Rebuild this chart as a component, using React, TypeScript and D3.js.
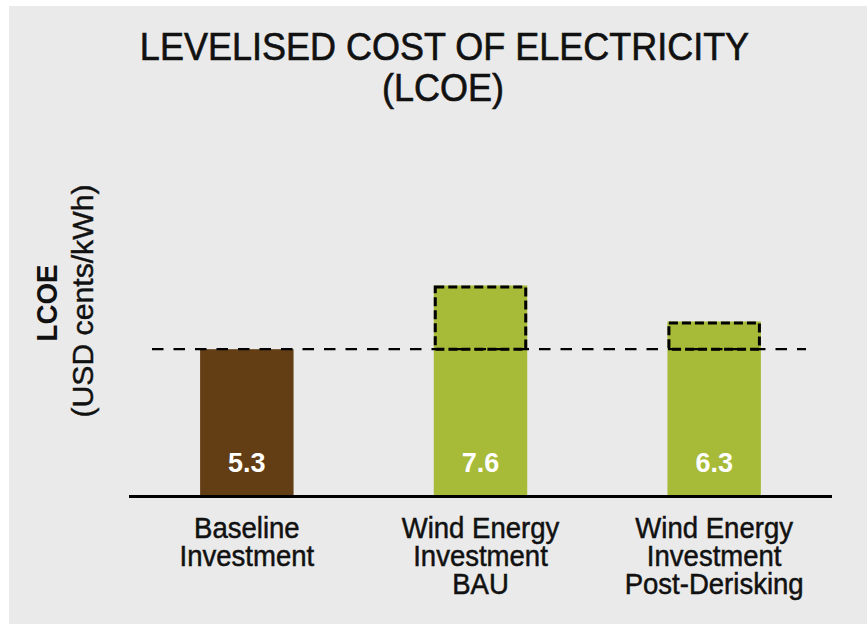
import React from "react";
import * as d3 from "d3";

const categories: string[][] = [
  ["Baseline", "Investment"],
  ["Wind Energy", "Investment", "BAU"],
  ["Wind Energy", "Investment", "Post-Derisking"],
];
const values: number[] = [5.3, 7.6, 6.3];
const valueLabels: string[] = ["5.3", "7.6", "6.3"];
const baselineValue = 5.3;
const barColors: string[] = ["#633e14", "#a8bb39", "#a8bb39"];
const titleLines: string[] = ["LEVELISED COST OF ELECTRICITY", "(LCOE)"];
const yLabelLines: string[] = ["LCOE", "(USD cents/kWh)"];

const W = 867;
const H = 624;
const FONT = "'Liberation Sans', Arial, sans-serif";

export default function App() {
  const ids = categories.map((_, i) => String(i));
  const x = d3
    .scaleBand<string>()
    .domain(ids)
    .range([130, 831])
    .paddingInner(0.6)
    .paddingOuter(0.3);
  const y = d3.scaleLinear().domain([0, 10]).range([496, 219]);
  const bw = x.bandwidth();
  const [r0, r1] = x.range();
  const yBase = y(baselineValue);

  return (
    <svg
      width={W}
      height={H}
      style={{ position: "absolute", left: 0, top: 0, display: "block" }}
      fontFamily={FONT}
    >
      <rect x={0} y={0} width={W} height={H} fill="#ffffff" />
      <rect x={9} y={6} width={W - 9} height={H - 6} fill="#eaeaea" />

      {/* title */}
      <g transform="translate(444.5,60) scale(1,1.08)">
        <text x={0} y={0} textAnchor="middle" fontSize={36} fill="#111" stroke="#111" strokeWidth={0.6}>
          {titleLines[0]}
        </text>
      </g>
      <g transform="translate(443,101) scale(1,1.08)">
        <text x={0} y={0} textAnchor="middle" fontSize={36} fill="#111" stroke="#111" strokeWidth={0.6}>
          {titleLines[1]}
        </text>
      </g>

      {/* y axis label */}
      <text
        transform={`translate(57,303) rotate(-90)`}
        textAnchor="middle"
        fontSize={29}
        fontWeight="bold"
        fill="#111"
        textLength={77}
        lengthAdjust="spacingAndGlyphs"
      >
        {yLabelLines[0]}
      </text>
      <text
        transform={`translate(93,301) rotate(-90)`}
        textAnchor="middle"
        fontSize={29}
        fill="#111"
        stroke="#111"
        strokeWidth={0.4}
        textLength={233}
        lengthAdjust="spacingAndGlyphs"
      >
        {yLabelLines[1]}
      </text>

      {/* bars */}
      {values.map((v, i) => {
        const bx = x(ids[i])!;
        return (
          <rect
            key={"b" + i}
            x={bx}
            y={y(v)}
            width={bw}
            height={y(0) - y(v)}
            fill={barColors[i]}
          />
        );
      })}

      {/* baseline dashed line */}
      <line
        x1={r0 + 22}
        x2={r1 - 25}
        y1={yBase}
        y2={yBase}
        stroke="#000"
        strokeWidth={2.3}
        strokeDasharray="11.5,10"
      />

      {/* dashed boxes for the extra cost above baseline */}
      {values.map((v, i) => {
        if (v <= baselineValue) return null;
        const bx = x(ids[i])!;
        const top = y(v);
        return (
          <rect
            key={"d" + i}
            x={bx + 1.5}
            y={top + 1.5}
            width={bw - 3}
            height={yBase - top - 1.5}
            fill="none"
            stroke="#000"
            strokeWidth={3}
            strokeDasharray="9,4"
          />
        );
      })}

      {/* value labels */}
      {values.map((v, i) => (
        <text
          key={"v" + i}
          x={x(ids[i])! + bw / 2}
          y={472}
          textAnchor="middle"
          fontSize={27}
          fontWeight="bold"
          fill="#ffffff"
        >
          {valueLabels[i]}
        </text>
      ))}

      {/* x axis line */}
      <line
        x1={r0 - 1}
        x2={r1 + 1}
        y1={y(0) + 0.5}
        y2={y(0) + 0.5}
        stroke="#000"
        strokeWidth={3}
      />

      {/* category labels */}
      {categories.map((lines, i) => (
        <g key={"c" + i} transform={`translate(${x(ids[i])! + bw / 2},0) scale(0.95,1)`}>
          <text textAnchor="middle" fontSize={29} fill="#111" stroke="#111" strokeWidth={0.5}>
            {lines.map((l, j) => (
              <tspan key={j} x={0} y={538 + j * 28}>
                {l}
              </tspan>
            ))}
          </text>
        </g>
      ))}
    </svg>
  );
}
